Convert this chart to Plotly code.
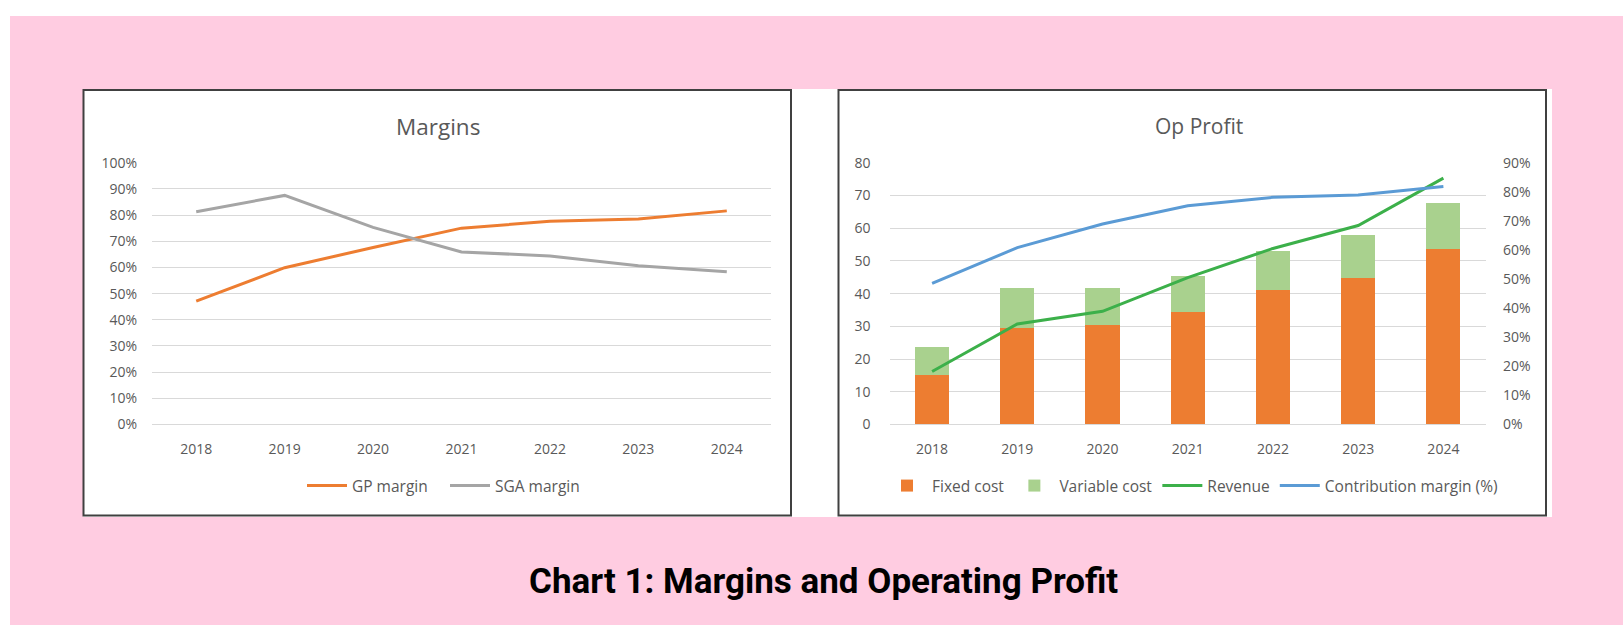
import plotly.graph_objects as go

# ---------------- data ----------------
years = ["2018", "2019", "2020", "2021", "2022", "2023", "2024"]

gp_margin = [0.471, 0.599, 0.676, 0.750, 0.776, 0.785, 0.816]
sga_margin = [0.813, 0.875, 0.753, 0.659, 0.644, 0.606, 0.583]

fixed_cost = [15.2, 29.5, 30.3, 34.3, 41.0, 44.9, 53.6]
variable_cost = [8.6, 12.1, 11.3, 11.1, 12.1, 13.0, 14.1]
revenue = [16.2, 30.7, 34.6, 44.9, 53.8, 60.8, 75.3]
contribution_margin = [0.485, 0.608, 0.689, 0.752, 0.781, 0.789, 0.818]

chart_title = "Chart 1: Margins and Operating Profit"
left_title = "Margins"
right_title = "Op Profit"

# ---------------- layout helpers ----------------
W, H = 1623, 625


def X(px):
    return px / W


def Y(py):
    return 1 - py / H


TXT = "#595959"
GRID = "#d9d9d9"
FONT = "Open Sans"

fig = go.Figure()

# left chart
fig.add_trace(go.Scatter(x=years, y=gp_margin, name="GP margin", mode="lines",
                         line=dict(color="#ED7D31", width=3), xaxis="x", yaxis="y",
                         legend="legend"))
fig.add_trace(go.Scatter(x=years, y=sga_margin, name="SGA margin", mode="lines",
                         line=dict(color="#A5A5A5", width=3), xaxis="x", yaxis="y",
                         legend="legend"))

# right chart
fig.add_trace(go.Bar(x=years, y=fixed_cost, name="Fixed cost", marker_color="#ED7D31",
                     marker_line_width=0, xaxis="x2", yaxis="y2", legend="legend2"))
fig.add_trace(go.Bar(x=years, y=variable_cost, name="Variable cost", marker_color="#A9D18E",
                     marker_line_width=0, xaxis="x2", yaxis="y2", legend="legend2"))
fig.add_trace(go.Scatter(x=years, y=revenue, name="Revenue", mode="lines",
                         line=dict(color="#3CB04A", width=3), xaxis="x2", yaxis="y2",
                         legend="legend2"))
fig.add_trace(go.Scatter(x=years, y=contribution_margin, name="Contribution margin (%)",
                         mode="lines", line=dict(color="#5B9BD5", width=3),
                         xaxis="x2", yaxis="y3", legend="legend2"))

ydom = [Y(424.5), Y(162.7)]
axfont = dict(family=FONT, size=14, color=TXT)
legfont = dict(family=FONT, size=15.5, color=TXT)

shapes = [
    dict(type="rect", xref="paper", yref="paper", x0=X(10), x1=X(W + 5), y0=Y(16), y1=Y(H + 5),
         fillcolor="#FFCCE1", line_width=0, layer="below"),
    dict(type="rect", xref="paper", yref="paper", x0=X(83), x1=X(1552), y0=Y(89), y1=Y(517),
         fillcolor="white", line_width=0, layer="below"),
    dict(type="rect", xref="paper", yref="paper", x0=X(83.5), x1=X(791), y0=Y(90), y1=Y(515.5),
         fillcolor="white", line=dict(color="#404040", width=2), layer="below"),
    dict(type="rect", xref="paper", yref="paper", x0=X(838.5), x1=X(1546), y0=Y(90), y1=Y(515.5),
         fillcolor="white", line=dict(color="#404040", width=2), layer="below"),
]

annotations = [
    dict(text=left_title, x=X(438), y=Y(126), xref="paper", yref="paper", showarrow=False,
         font=dict(family=FONT, size=22.5, color=TXT), xanchor="center", yanchor="middle"),
    dict(text=right_title, x=X(1199), y=Y(126), xref="paper", yref="paper", showarrow=False,
         font=dict(family=FONT, size=21, color=TXT), xanchor="center", yanchor="middle"),
    dict(text="<b>" + chart_title + "</b>", x=X(823.5), y=Y(581), xref="paper", yref="paper",
         showarrow=False, font=dict(family="Roboto", size=35, color="black"),
         xanchor="center", yanchor="middle"),
]

fig.update_layout(
    template="none",
    width=W, height=H,
    margin=dict(l=0, r=0, t=0, b=0, autoexpand=False),
    paper_bgcolor="white",
    plot_bgcolor="rgba(0,0,0,0)",
    barmode="stack",
    bargap=0.6,
    shapes=shapes,
    annotations=annotations,
    xaxis=dict(domain=[X(152), X(771)], type="category", range=[-0.5, 6.5],
               showgrid=False, showline=False, zeroline=False, ticks="",
               tickfont=axfont, ticklabelstandoff=14, anchor="y", fixedrange=True,
               automargin=False),
    yaxis=dict(domain=ydom, range=[0, 1], dtick=0.1, tickformat=".0%",
               showgrid=True, gridcolor=GRID, gridwidth=1.3, zeroline=True,
               zerolinecolor=GRID, zerolinewidth=1.3, showline=False, ticks="",
               tickfont=axfont, ticklabelstandoff=14, anchor="x", fixedrange=True,
               automargin=False),
    xaxis2=dict(domain=[X(889.5), X(1486)], type="category", range=[-0.5, 6.5],
                showgrid=False, showline=False, zeroline=False, ticks="",
                tickfont=axfont, ticklabelstandoff=14, anchor="y2", fixedrange=True,
                automargin=False),
    yaxis2=dict(domain=ydom, range=[0, 80], dtick=10,
                showgrid=True, gridcolor=GRID, gridwidth=1.3, zeroline=True,
                zerolinecolor=GRID, zerolinewidth=1.3, showline=False, ticks="",
                tickfont=axfont, ticklabelstandoff=18, anchor="x2", fixedrange=True,
                automargin=False),
    yaxis3=dict(domain=ydom, range=[0, 0.9], dtick=0.1, tickformat=".0%",
                overlaying="y2", side="right", showgrid=False, zeroline=False,
                showline=False, ticks="", tickfont=axfont, ticklabelstandoff=16,
                anchor="x2", fixedrange=True, automargin=False),
    legend=dict(orientation="h", x=X(302), y=Y(486), xanchor="left", yanchor="middle",
                font=legfont, bgcolor="rgba(0,0,0,0)", borderwidth=0,
                traceorder="normal", itemwidth=40, entrywidth=88, entrywidthmode="pixels"),
    legend2=dict(orientation="h", x=X(882), y=Y(486), xanchor="left", yanchor="middle",
                 font=legfont, bgcolor="rgba(0,0,0,0)", borderwidth=0,
                 traceorder="normal", itemwidth=40),
    showlegend=True,
)

fig.write_html("out.html", config={"displayModeBar": False},
               post_script="document.body.style.margin='0px';document.body.style.overflow='hidden';")
